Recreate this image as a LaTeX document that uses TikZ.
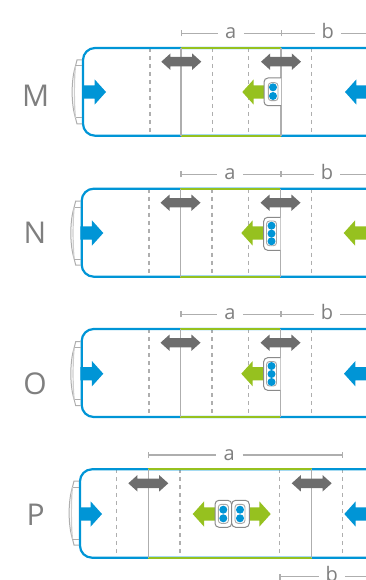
\documentclass[tikz,border=0pt]{standalone}
\usepackage{fontspec}
\setmainfont{Open Sans}
\usetikzlibrary{shapes.arrows,arrows.meta}
\definecolor{busblue}{HTML}{0095D6}
\definecolor{busgreen}{HTML}{96C11F}
\definecolor{busgray}{HTML}{6D6D6D}
\definecolor{linegray}{HTML}{AEAEAE}
\definecolor{textgray}{HTML}{7F7F7F}
\tikzset{
    rowlabel/.style={text=textgray, inner sep=0pt, font=\fontsize{30}{30}\selectfont},
    dimlabel/.style={text=textgray, inner sep=0pt, minimum width=26, text height=10, text depth=0, font=\fontsize{20}{20}\selectfont},
    dimline/.style={draw=linegray, line width=1.2},
    dimbar/.style={dimline, {Bar[width=6,length=0]}-},
    wall/.style={line width=2.2, rounded corners=12},
    divider/.style={draw=linegray, line width=1.5},
    seatline/.style={draw=linegray, line width=1.2, dash pattern=on 4 off 4},
    flowarrow/.style={single arrow, fill=#1, inner sep=0pt, outer sep=0pt, text height=13, text depth=0, single arrow head extend=6, single arrow tip angle=96, anchor=tip},
    swingarrow/.style={double arrow, fill=busgray, inner sep=0pt, outer sep=0pt, text height=9, text depth=0, minimum height=40, double arrow head extend=3.5, double arrow tip angle=84},
    doorbox/.style={draw=busgray!80, line width=1, fill=white, rounded corners=4},
    seatbox/.style={draw=busgray!60, line width=.9, fill=white, rounded corners=3},
    seat/.style={circle, fill=busblue, inner sep=0pt, minimum size=8},
}
\newcommand{\busshell}[5]{% left, top, bottom, a start, a end
    \draw[busblue, wall] (400,#2) -- (#1,#2) -- (#1,#3) -- (400,#3);
    \draw[busgreen, line width=2.2] (#4,#2) -- (#5,#2);
    \draw[busgreen, line width=2.2] (#4,#3) -- (#5,#3);
    \draw[divider] (#4,#2) -- (#4,#3);
    \draw[divider] (#5,#2) -- (#5,#3);
}
\newcommand{\busmirror}[2]{% left, centre
    \begin{scope}[shift={(#1,#2)}]
        \draw[linegray, line width=1] (-1,-32) -- (-6,-32) -- (-7.5,-26) .. controls (-12,-12) and (-12,12) .. (-7.5,26) -- (-6,32) -- (-1,32);
        \draw[linegray, line width=1] (-7.5,-26) -- (-1,-26);
        \draw[linegray, line width=1] (-7.5,26) -- (-1,26);
        \draw[linegray!60, line width=1.2] (-7.5,-26) .. controls (-9,-12) and (-9,12) .. (-7.5,26);
    \end{scope}
}
\begin{document}
\begin{tikzpicture}[x=1pt, y=-1pt]
    \useasboundingbox (0,0) rectangle (366,580);

    % row M
    \foreach \x in {150,212.7,248.7,311.7} \draw[seatline] (\x,48) -- (\x,135.7);
    \busshell{83}{48}{135.7}{181}{281}
    \busmirror{83}{92}
    \node[name=m, rowlabel] at (35.7,96) {M};
    \coordinate (mastart) at (181,33.3);
    \coordinate (maend) at (281,33.3);
    \coordinate (mbend) at (380,33.3);
    \node[name=ma, dimlabel] at (230.7,33.3) {a};
    \node[name=mb, dimlabel] at (327.7,33.3) {b};
    \draw[dimbar] (mastart) -- (ma);
    \draw[dimline] (ma) -- (maend);
    \draw[dimbar] (maend) -- (mb);
    \draw[dimline] (mb) -- (mbend);
    \node[name=mswing1, swingarrow] at (181.3,61.7) {};
    \node[name=mswing2, swingarrow] at (281,61.7) {};
    \node[name=min1, flowarrow=busblue, minimum height=23] at (106,92) {};
    \node[name=min2, flowarrow=busblue, minimum height=40, shape border rotate=180] at (345,92) {};
    \node[name=mout, flowarrow=busgreen, minimum height=23, shape border rotate=180] at (242.3,92) {};
    \draw[doorbox] (281,78) -- (264,78) -- (264,105.7) -- (281,105.7);
    \draw[seatbox] (268.3,82.7) rectangle (278,100.7);
    \node[name=mseat1, seat] at (273,87.3) {};
    \node[name=mseat2, seat] at (273,96) {};

    % row N
    \foreach \x in {149,212,248.3,311.3} \draw[seatline] (\x,188.7) -- (\x,276.7);
    \busshell{81.7}{188.7}{276.7}{180.3}{280.3}
    \busmirror{81.7}{233}
    \node[name=n, rowlabel] at (35,232.7) {N};
    \coordinate (nastart) at (180.3,174.3);
    \coordinate (naend) at (280.3,174.3);
    \coordinate (nbend) at (380,174.3);
    \node[name=na, dimlabel] at (230,174.3) {a};
    \node[name=nb, dimlabel] at (327,174.3) {b};
    \draw[dimbar] (nastart) -- (na);
    \draw[dimline] (na) -- (naend);
    \draw[dimbar] (naend) -- (nb);
    \draw[dimline] (nb) -- (nbend);
    \node[name=nswing1, swingarrow] at (180.5,202.7) {};
    \node[name=nswing2, swingarrow] at (280.5,202.7) {};
    \node[name=nin1, flowarrow=busblue, minimum height=23] at (103.3,233) {};
    \node[name=nin2, flowarrow=busgreen, minimum height=40, shape border rotate=180] at (343.7,233) {};
    \node[name=nout, flowarrow=busgreen, minimum height=23, shape border rotate=180] at (241.3,233) {};
    \draw[doorbox] (280.3,217.3) -- (263.7,217.3) -- (263.7,250.3) -- (280.3,250.3);
    \draw[seatbox] (266.5,221) rectangle (276.5,245.7);
    \node[name=nseat1, seat] at (271.5,225.7) {};
    \node[name=nseat2, seat] at (271.5,233.6) {};
    \node[name=nseat3, seat] at (271.5,241.3) {};

    % row O
    \foreach \x in {149,212,248.3,311.3} \draw[seatline] (\x,329) -- (\x,417);
    \busshell{81.7}{329}{417}{180.3}{280.3}
    \busmirror{81.7}{373.7}
    \node[name=o, rowlabel] at (35,383.3) {O};
    \coordinate (oastart) at (180.3,314.3);
    \coordinate (oaend) at (280.3,314.3);
    \coordinate (obend) at (380,314.3);
    \node[name=oa, dimlabel] at (230,314.3) {a};
    \node[name=ob, dimlabel] at (327,314.3) {b};
    \draw[dimbar] (oastart) -- (oa);
    \draw[dimline] (oa) -- (oaend);
    \draw[dimbar] (oaend) -- (ob);
    \draw[dimline] (ob) -- (obend);
    \node[name=oswing1, swingarrow] at (180.5,342.7) {};
    \node[name=oswing2, swingarrow] at (280.5,342.7) {};
    \node[name=oin1, flowarrow=busblue, minimum height=23] at (103.3,373.7) {};
    \node[name=oin2, flowarrow=busblue, minimum height=40, shape border rotate=180] at (344,373.7) {};
    \node[name=oout, flowarrow=busgreen, minimum height=23, shape border rotate=180] at (241.3,373.7) {};
    \draw[doorbox] (280.3,357.7) -- (263.7,357.7) -- (263.7,390.3) -- (280.3,390.3);
    \draw[seatbox] (266.5,361.5) rectangle (276.5,386);
    \node[name=oseat1, seat] at (271.5,366) {};
    \node[name=oseat2, seat] at (271.5,374) {};
    \node[name=oseat3, seat] at (271.5,382) {};

    % row P
    \foreach \x in {116.7,180,279.3,342.7} \draw[seatline] (\x,469.3) -- (\x,557.7);
    \busshell{80}{469.3}{557.7}{148.3}{311.7}
    \busmirror{80}{513}
    \node[name=p, rowlabel] at (35.7,515) {P};
    \coordinate (pastart) at (147.7,455);
    \coordinate (paend) at (343.3,455);
    \coordinate (pbstart) at (279.3,576.7);
    \coordinate (pbend) at (380,576.7);
    \node[name=pa, dimlabel] at (229.3,455) {a};
    \node[name=pb, dimlabel] at (331.7,576.7) {b};
    \draw[dimbar] (pastart) -- (pa);
    \draw[dimline, -{Bar[width=6,length=0]}] (pa) -- (paend);
    \draw[dimbar] (pbstart) -- (pb);
    \draw[dimline] (pb) -- (pbend);
    \node[name=pswing1, swingarrow] at (148.3,483.3) {};
    \node[name=pswing2, swingarrow] at (311.7,483.3) {};
    \node[name=pin1, flowarrow=busblue, minimum height=22] at (102,514) {};
    \node[name=pin2, flowarrow=busblue, minimum height=40, shape border rotate=180] at (344.3,514) {};
    \node[name=pout1, flowarrow=busgreen, minimum height=30, shape border rotate=180] at (192.7,514) {};
    \node[name=pout2, flowarrow=busgreen, minimum height=30] at (270.7,514) {};
    \draw[doorbox] (215,500.3) rectangle (231.7,527.3);
    \draw[doorbox] (231.7,500.3) rectangle (249.3,527.3);
    \draw[seatbox] (218.3,504.3) rectangle (228.5,523.3);
    \draw[seatbox] (235,504.3) rectangle (245,523.3);
    \node[name=pseat1, seat] at (223.3,509.7) {};
    \node[name=pseat2, seat] at (223.3,518.3) {};
    \node[name=pseat3, seat] at (240,509.7) {};
    \node[name=pseat4, seat] at (240,518.3) {};
\end{tikzpicture}
\end{document}
